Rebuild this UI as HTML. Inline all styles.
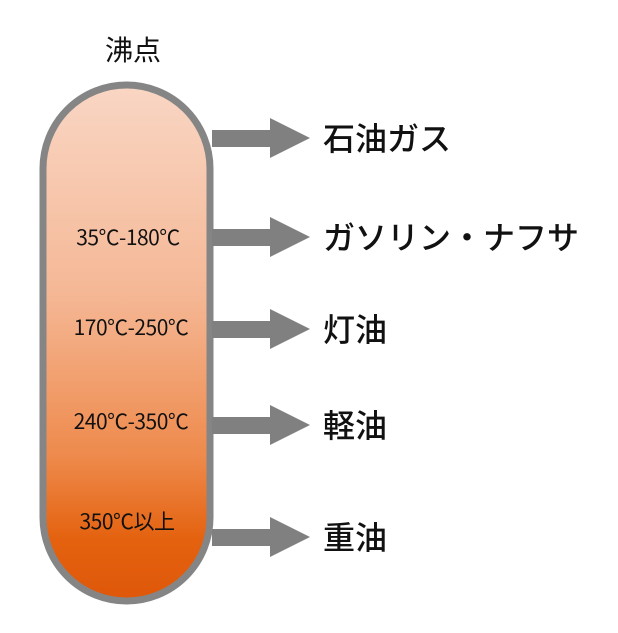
<!DOCTYPE html>
<html><head><meta charset="utf-8"><style>
body{margin:0;background:#fff;width:618px;height:628px;overflow:hidden;font-family:"Liberation Sans","Noto Sans CJK JP",sans-serif}
</style></head><body>
<svg width="618" height="628" viewBox="0 0 618 628">
<defs><linearGradient id="g" x1="0" y1="0" x2="0" y2="1">
<stop offset="0" stop-color="#f9d6c4"/><stop offset="0.4" stop-color="#f5b896"/><stop offset="0.72" stop-color="#ee8a4c"/><stop offset="0.88" stop-color="#e4620f"/><stop offset="1" stop-color="#df570a"/></linearGradient></defs>
<rect x="43" y="85" width="167" height="516" rx="83.5" fill="url(#g)" stroke="#858585" stroke-width="7"/>
<g fill="#808080">
<g id="a"><rect x="212" y="130" width="60" height="17"/><polygon points="270,118 310,138 270,158"/></g>
<use href="#a" y="99"/><use href="#a" y="191"/><use href="#a" y="287"/><use href="#a" y="399"/>
</g>
<g font-family="Noto Sans CJK JP, sans-serif" fill="#111">
<text x="133" y="60" font-size="28" text-anchor="middle">沸点</text>
<g font-size="21" text-anchor="middle" letter-spacing="-0.5">
<text x="128" y="245">35℃-180℃</text>
<text x="131" y="335">170℃-250℃</text>
<text x="131" y="429">240℃-350℃</text>
<text x="127" y="529">350℃以上</text>
</g>
<g font-size="32" font-weight="500">
<text x="323" y="150">石油ガス</text>
<text x="323" y="249">ガソリン・ナフサ</text>
<text x="323" y="341">灯油</text>
<text x="323" y="437">軽油</text>
<text x="323" y="549">重油</text>
</g></g>
</svg>
</body></html>
